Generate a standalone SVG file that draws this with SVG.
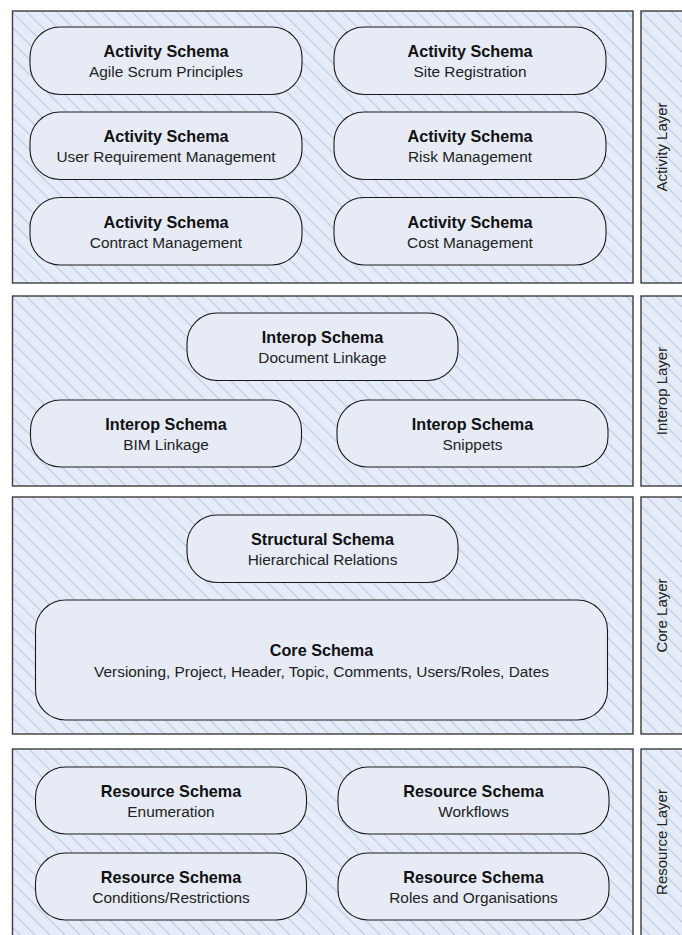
<svg xmlns="http://www.w3.org/2000/svg" width="682" height="935" viewBox="0 0 682 935">
<defs>
<pattern id="hatch" patternUnits="userSpaceOnUse" width="15" height="15">
<rect width="15" height="15" fill="#E6ECF7"/>
<path d="M-2,-2 L17,17 M-2,13 L2,17 M13,-2 L17,2" stroke="#BACBE8" stroke-width="1.1"/>
</pattern>
</defs>
<style>
.panel{fill:url(#hatch);stroke:#3c3c3c;stroke-width:1.4}
.node{fill:#E6EBF5;stroke:#1a1a1a;stroke-width:1.1}
.t{font-family:"Liberation Sans",Arial,sans-serif;font-weight:bold;font-size:16.2px;fill:#111;text-anchor:middle}
.s{font-family:"Liberation Sans",Arial,sans-serif;font-size:15.4px;fill:#222;text-anchor:middle}
.side{font-family:"Liberation Sans",Arial,sans-serif;font-size:15px;fill:#222;text-anchor:middle}
</style>
<rect width="682" height="935" fill="#ffffff"/>

<g id="activity-layer">
<rect class="panel" x="12.5" y="11" width="620.5" height="272"/>
<rect class="panel" x="641" y="11" width="60" height="272"/>
<text class="side" transform="translate(667,147) rotate(-90)">Activity Layer</text>
</g>
<g id="interop-layer">
<rect class="panel" x="12.5" y="296" width="620.5" height="190"/>
<rect class="panel" x="641" y="296" width="60" height="190"/>
<text class="side" transform="translate(667,391) rotate(-90)">Interop Layer</text>
</g>
<g id="core-layer">
<rect class="panel" x="12.5" y="497" width="620.5" height="237"/>
<rect class="panel" x="641" y="497" width="60" height="237"/>
<text class="side" transform="translate(667,615.5) rotate(-90)">Core Layer</text>
</g>
<g id="resource-layer">
<rect class="panel" x="12.5" y="749" width="620.5" height="200"/>
<rect class="panel" x="641" y="749" width="60" height="200"/>
<text class="side" transform="translate(667,842) rotate(-90)">Resource Layer</text>
</g>

<g id="act-agile">
<rect class="node" x="30" y="27" width="272" height="67.5" rx="30" ry="30"/>
<text class="t" x="166" y="57">Activity Schema</text>
<text class="s" x="166" y="77">Agile Scrum Principles</text>
</g>
<g id="act-site">
<rect class="node" x="334" y="27" width="272" height="67.5" rx="30" ry="30"/>
<text class="t" x="470" y="57">Activity Schema</text>
<text class="s" x="470" y="77">Site Registration</text>
</g>
<g id="act-user">
<rect class="node" x="30" y="112" width="272" height="67.5" rx="30" ry="30"/>
<text class="t" x="166" y="142">Activity Schema</text>
<text class="s" x="166" y="162">User Requirement Management</text>
</g>
<g id="act-risk">
<rect class="node" x="334" y="112" width="272" height="67.5" rx="30" ry="30"/>
<text class="t" x="470" y="142">Activity Schema</text>
<text class="s" x="470" y="162">Risk Management</text>
</g>
<g id="act-contract">
<rect class="node" x="30" y="197.5" width="272" height="67.5" rx="30" ry="30"/>
<text class="t" x="166" y="227.5">Activity Schema</text>
<text class="s" x="166" y="247.5">Contract Management</text>
</g>
<g id="act-cost">
<rect class="node" x="334" y="197.5" width="272" height="67.5" rx="30" ry="30"/>
<text class="t" x="470" y="227.5">Activity Schema</text>
<text class="s" x="470" y="247.5">Cost Management</text>
</g>

<g id="interop-doc">
<rect class="node" x="187" y="313" width="271" height="67.5" rx="30" ry="30"/>
<text class="t" x="322.5" y="343">Interop Schema</text>
<text class="s" x="322.5" y="363">Document Linkage</text>
</g>
<g id="interop-bim">
<rect class="node" x="30.5" y="400" width="271" height="67" rx="30" ry="30"/>
<text class="t" x="166" y="430">Interop Schema</text>
<text class="s" x="166" y="450">BIM Linkage</text>
</g>
<g id="interop-snippets">
<rect class="node" x="337" y="400" width="271" height="67" rx="30" ry="30"/>
<text class="t" x="472.5" y="430">Interop Schema</text>
<text class="s" x="472.5" y="450">Snippets</text>
</g>

<g id="structural">
<rect class="node" x="187" y="515" width="271" height="67.5" rx="30" ry="30"/>
<text class="t" x="322.5" y="545">Structural Schema</text>
<text class="s" x="322.5" y="565">Hierarchical Relations</text>
</g>
<g id="core">
<rect class="node" x="35.5" y="600" width="572" height="120" rx="30" ry="30"/>
<text class="t" x="321.5" y="656">Core Schema</text>
<text class="s" x="321.5" y="677">Versioning, Project, Header, Topic, Comments, Users/Roles, Dates</text>
</g>

<g id="res-enum">
<rect class="node" x="35.5" y="767" width="271" height="67" rx="30" ry="30"/>
<text class="t" x="171" y="797">Resource Schema</text>
<text class="s" x="171" y="817">Enumeration</text>
</g>
<g id="res-workflows">
<rect class="node" x="338" y="767" width="271" height="67" rx="30" ry="30"/>
<text class="t" x="473.5" y="797">Resource Schema</text>
<text class="s" x="473.5" y="817">Workflows</text>
</g>
<g id="res-conditions">
<rect class="node" x="35.5" y="853" width="271" height="67" rx="30" ry="30"/>
<text class="t" x="171" y="883">Resource Schema</text>
<text class="s" x="171" y="903">Conditions/Restrictions</text>
</g>
<g id="res-roles">
<rect class="node" x="338" y="853" width="271" height="67" rx="30" ry="30"/>
<text class="t" x="473.5" y="883">Resource Schema</text>
<text class="s" x="473.5" y="903">Roles and Organisations</text>
</g>
</svg>
